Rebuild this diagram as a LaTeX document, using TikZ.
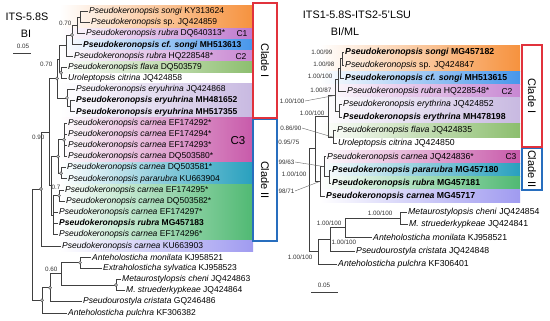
\documentclass[tikz,border=0pt]{standalone}
\usepackage{fontspec}
\setmainfont{Liberation Sans}
\definecolor{orng}{RGB}{246,146,62}
\definecolor{vio}{RGB}{190,120,205}
\definecolor{blu}{RGB}{70,150,235}
\definecolor{pnk}{RGB}{200,135,210}
\definecolor{grnA}{RGB}{140,190,110}
\definecolor{lav}{RGB}{200,185,225}
\definecolor{mag}{RGB}{200,90,170}
\definecolor{teal}{RGB}{40,160,190}
\definecolor{grnB}{RGB}{80,185,115}
\definecolor{bvio}{RGB}{160,155,240}
\definecolor{cred}{RGB}{225,50,60}
\definecolor{cblue}{RGB}{40,110,190}
\newcommand{\bandfill}[5]{\shade[left color=white,right color=#5] (#1,#2) rectangle (#3,#4);}
\tikzset{
 br/.style={draw=black!75, line width=0.7pt},
 lab/.style={anchor=west, inner sep=1pt, font=\fontsize{8.5}{9}\selectfont},
 labr/.style={anchor=west, inner sep=1pt, font=\fontsize{8.7}{9}\selectfont},
 supp/.style={inner sep=0.5pt, font=\fontsize{6.3}{7}\selectfont, text=black!80},
 ndot/.style={circle, fill=gray!55, draw=black!70, line width=0.3pt, inner sep=0pt, minimum size=3.2pt},
 lead/.style={draw=black!60, line width=0.4pt},
 cladebox/.style={line width=1.6pt, fill=white},
 cladetxt/.style={rotate=-90, font=\fontsize{11}{12}\selectfont},
 ttl/.style={font=\fontsize{10.8}{12}\selectfont},
 clab/.style={font=\fontsize{8.5}{9}\selectfont},
}
\begin{document}
\begin{tikzpicture}[x=1pt,y=-1pt]
\useasboundingbox[fill=white] (0,0) rectangle (550,321);
% ---------- left bands ----------
\bandfill{60}{5.7}{253}{28.05}{orng}
\bandfill{60}{28.05}{253}{39.2}{vio}
\bandfill{60}{39.2}{253}{50.4}{blu}
\bandfill{60}{50.4}{253}{61.55}{pnk}
\bandfill{60}{61.55}{253}{72.7}{grnA}
\bandfill{60}{83.9}{253}{117.4}{lav}
\bandfill{60}{117.4}{253}{162.1}{mag}
\bandfill{60}{162.1}{253}{184.4}{teal}
\bandfill{60}{184.4}{253}{240.3}{grnB}
\bandfill{60}{240.3}{253}{251.45}{bvio}
% ---------- right bands ----------
\bandfill{320}{45.5}{520}{71.6}{orng}
\bandfill{320}{71.6}{520}{84.7}{blu}
\bandfill{320}{84.7}{520}{97.8}{pnk}
\bandfill{320}{97.8}{520}{124}{lav}
\bandfill{320}{124}{520}{137.1}{grnA}
\bandfill{320}{150.2}{520}{163.3}{mag}
\bandfill{320}{163.3}{520}{176.4}{teal}
\bandfill{320}{176.4}{520}{189.5}{grnB}
\bandfill{320}{189.5}{520}{202.6}{bvio}
% ---------- titles ----------
\node[ttl] (t1) at (27,17) {ITS-5.8S};
\node[ttl] (t2) at (26,34) {BI};
\node[supp] (s05a) at (23,46) {0.05};
\coordinate (sbA1) at (13,53); \coordinate (sbA2) at (31,53);
\draw[br] (sbA1) -- (sbA2);
\node[ttl] (t3) at (357,15) {ITS1-5.8S-ITS2-5'LSU};
\node[ttl] (t4) at (345,32) {BI/ML};
\node[supp] (s05b) at (324,285) {0.05};
\coordinate (sbB1) at (311,292); \coordinate (sbB2) at (338,292);
\draw[br] (sbB1) -- (sbB2);
% ---------- left labels ----------
\node[lab] (L1) at (88,11.3) {\textit{Pseudokeronopsis songi} KY313624};
\node[lab] (L2) at (90,22.47) {\textit{Pseudokeronopsis} sp. JQ424859};
\node[lab] (L3) at (85,33.64) {\textit{Pseudokeronopsis rubra} DQ640313*};
\node[lab] (L4) at (82,44.81) {\textbf{\textit{Pseudokeronopsis cf. songi} MH513613}};
\node[lab] (L5) at (73,55.98) {\textit{Pseudokeronopsis rubra} HQ228548*};
\node[lab] (L6) at (67,67.15) {\textit{Pseudokeronopsis flava} DQ503579};
\node[lab] (L7) at (67,78.32) {\textit{Uroleptopsis citrina} JQ424858};
\node[lab] (L8) at (75,89.49) {\textit{Pseudokeronopsis eryuhrina} JQ424868};
\node[lab] (L9) at (75,100.66) {\textbf{\textit{Pseudokeronopsis eryuhrina} MH481652}};
\node[lab] (L10) at (75,111.83) {\textbf{\textit{Pseudokeronopsis eryuhrina} MH517355}};
\node[lab] (L11) at (67,123.0) {\textit{Pseudokeronopsis carnea} EF174292*};
\node[lab] (L12) at (67,134.17) {\textit{Pseudokeronopsis carnea} EF174294*};
\node[lab] (L13) at (67,145.34) {\textit{Pseudokeronopsis carnea} EF174293*};
\node[lab] (L14) at (67,156.51) {\textit{Pseudokeronopsis carnea} DQ503580*};
\node[lab] (L15) at (66,167.68) {\textit{Pseudokeronopsis carnea} DQ503581*};
\node[lab] (L16) at (67,178.85) {\textit{Pseudokeronopsis pararubra} KU663904};
\node[lab] (L17) at (64,190.02) {\textit{Pseudokeronopsis carnea} EF174295*};
\node[lab] (L18) at (65,201.19) {\textit{Pseudokeronopsis carnea} DQ503582*};
\node[lab] (L19) at (58,212.36) {\textit{Pseudokeronopsis carnea} EF174297*};
\node[lab] (L20) at (58,223.53) {\textbf{\textit{Pseudokeronopsis rubra} MG457183}};
\node[lab] (L21) at (58,234.7) {\textit{Pseudokeronopsis carnea} EF174296*};
\node[lab] (L22) at (61,245.87) {\textit{Pseudokeronopsis carnea} KU663903};
\node[lab] (L23) at (91,257.04) {\textit{Anteholosticha monilata} KJ958521};
\node[lab] (L24) at (102,268.21) {\textit{Extraholosticha sylvatica} KJ958523};
\node[lab] (L25) at (121,279.38) {\textit{Metaurostylopsis cheni} JQ424863};
\node[lab] (L26) at (125,290.55) {\textit{M. struederkypkeae} JQ424864};
\node[lab] (L27) at (82,301.72) {\textit{Pseudourostyla cristata} GQ246486};
\node[lab] (L28) at (67,312.89) {\textit{Anteholosticha pulchra} KF306382};
\node[clab] (C1) at (242,34) {C1};
\node[clab] (C2) at (241,57) {C2};
\node[font=\fontsize{11.5}{12}\selectfont] (C3) at (238,141) {C3};
% ---------- left internal nodes ----------
\coordinate (a12) at (80,16.89);
\coordinate (a123) at (77,25.27);
\coordinate (a1234) at (72,35.04);
\coordinate (a12345) at (66,45.51);
\coordinate (a67) at (61,72.74);
\coordinate (aF) at (59,59.13);
\coordinate (a910) at (70,106.25);
\coordinate (a8910) at (67,97.87);
\coordinate (aCI) at (57,78.5);
\coordinate (c1114) at (64,139.76);
\coordinate (c1516) at (61,173.27);
\coordinate (cP) at (58,156.5);
\coordinate (c1718) at (59,195.6);
\coordinate (cQ) at (53,215.15);
\coordinate (cII) at (51,185.8);
\coordinate (X) at (49,132.15);
\coordinate (R0) at (41,189.0);
\coordinate (o2324) at (80,262.6);
\coordinate (o2526) at (116,284.97);
\coordinate (oA) at (61,273.8);
\coordinate (oB) at (50,287.76);
\coordinate (oC) at (42,300.3);
\coordinate (rootL) at (32,244.7);
\draw[br] (a12) |- (L1.west) (a12) |- (L2.west);
\draw[br] (a123) |- (a12) (a123) |- (L3.west);
\draw[br] (a1234) |- (a123) (a1234) |- (L4.west);
\draw[br] (a12345) |- (a1234) (a12345) |- (L5.west);
\draw[br] (a67) |- (L6.west) (a67) |- (L7.west);
\draw[br] (aF) |- (a12345) (aF) |- (a67);
\draw[br] (a910) |- (L9.west) (a910) |- (L10.west);
\draw[br] (a8910) |- (L8.west) (a8910) |- (a910);
\draw[br] (aCI) |- (aF) (aCI) |- (a8910);
\draw[br] (c1114) |- (L11.west) (c1114) |- (L12.west) (c1114) |- (L13.west) (c1114) |- (L14.west);
\draw[br] (c1516) |- (L15.west) (c1516) |- (L16.west);
\draw[br] (cP) |- (c1114) (cP) |- (c1516);
\draw[br] (c1718) |- (L17.west) (c1718) |- (L18.west);
\draw[br] (cQ) |- (c1718) (cQ) |- (L19.west) (cQ) |- (L20.west) (cQ) |- (L21.west);
\draw[br] (cII) |- (cP) (cII) |- (cQ);
\draw[br] (X) |- (aCI) (X) |- (cII);
\draw[br] (R0) |- (X) (R0) |- (L22.west);
\draw[br] (o2324) |- (L23.west) (o2324) |- (L24.west);
\draw[br] (o2526) |- (L25.west) (o2526) |- (L26.west);
\draw[br] (oA) |- (o2324) (oA) |- (o2526);
\draw[br] (oB) |- (oA) (oB) |- (L27.west);
\draw[br] (oC) |- (oB) (oC) |- (L28.west);
\draw[br] (rootL) |- (R0) (rootL) |- (oC);
\foreach \n in {a1234,a67,a8910,aCI,c1114,cP,c1516,c1718,R0,o2324,o2526,oB,oC}
  \node[ndot] at (\n) {};
\node[supp, anchor=east] (p1) at (72,23) {0.70};
\node[supp, anchor=east] (p2) at (53,64) {0.70};
\node[supp, anchor=east] (p3) at (45,137) {0.90};
\node[supp, anchor=east] (p4) at (61,187) {0.7};
\node[supp, anchor=east] (p5) at (58,269) {0.60};
% ---------- right labels ----------
\node[labr] (R1) at (344,52) {\textbf{\textit{Pseudokeronopsis songi} MG457182}};
\node[labr] (R2) at (344,65.1) {\textit{Pseudokeronopsis} sp. JQ424847};
\node[labr] (R3) at (344,78.2) {\textbf{\textit{Pseudokeronopsis cf. songi} MH513615}};
\node[labr] (R4) at (346,91.3) {\textit{Pseudokeronopsis rubra} HQ228548*};
\node[labr] (R5) at (342,104.4) {\textit{Pseudokeronopsis erythrina} JQ424852};
\node[labr] (R6) at (342,117.5) {\textbf{\textit{Pseudokeronopsis erythrina} MH478198}};
\node[labr] (R7) at (336,130.6) {\textit{Pseudokeronopsis flava} JQ424835};
\node[labr] (R8) at (337,143.7) {\textit{Uroleptopsis citrina} JQ424850};
\node[labr] (R9) at (326,156.8) {\textit{Pseudokeronopsis carnea} JQ424836*};
\node[labr] (R10) at (331,169.9) {\textbf{\textit{Pseudokeronopsis pararubra} MG457180}};
\node[labr] (R11) at (331,183) {\textbf{\textit{Pseudokeronopsis rubra} MG457181}};
\node[labr] (R12) at (325,196.1) {\textbf{\textit{Pseudokeronopsis carnea} MG45717}};
\node[labr] (R13) at (407,212.5) {\textit{Metaurostylopsis cheni} JQ424854};
\node[labr] (R14) at (408,224.5) {\textit{M. struederkypkeae} JQ424841};
\node[labr] (R15) at (372,237) {\textit{Anteholosticha monilata} KJ958521};
\node[labr] (R16) at (355,251) {\textit{Pseudourostyla cristata} JQ424848};
\node[labr] (R17) at (337,264) {\textit{Anteholosticha pulchra} KF306401};
\node[clab] (C2r) at (507,91.3) {C2};
\node[clab] (C3r) at (511,156.8) {C3};
% ---------- right internal nodes ----------
\coordinate (b12) at (342,58.55);
\coordinate (b123) at (340,68.38);
\coordinate (b1234) at (338,79.84);
\coordinate (b56) at (339,110.95);
\coordinate (bA) at (335,95.4);
\coordinate (b78) at (333,137.15);
\coordinate (bB) at (328,116.3);
\coordinate (b1011) at (329,176.45);
\coordinate (b9) at (324,166.6);
\coordinate (b912) at (320,181.35);
\coordinate (bIng) at (315,148.8);
\coordinate (bM) at (400,218.5);
\coordinate (bN) at (345,227.75);
\coordinate (bO) at (330,239.4);
\coordinate (bQ) at (318,251.7);
\coordinate (rootR) at (309,200.25);
\draw[br] (b12) |- (R1.west) (b12) |- (R2.west);
\draw[br] (b123) |- (b12) (b123) |- (R3.west);
\draw[br] (b1234) |- (b123) (b1234) |- (R4.west);
\draw[br] (b56) |- (R5.west) (b56) |- (R6.west);
\draw[br] (bA) |- (b1234) (bA) |- (b56);
\draw[br] (b78) |- (R7.west) (b78) |- (R8.west);
\draw[br] (bB) |- (bA) (bB) |- (b78);
\draw[br] (b1011) |- (R10.west) (b1011) |- (R11.west);
\draw[br] (b9) |- (R9.west) (b9) |- (b1011);
\draw[br] (b912) |- (b9) (b912) |- (R12.west);
\draw[br] (bIng) |- (bB) (bIng) |- (b912);
\draw[br] (bM) |- (R13.west) (bM) |- (R14.west);
\draw[br] (bN) |- (bM) (bN) |- (R15.west);
\draw[br] (bO) |- (bN) (bO) |- (R16.west);
\draw[br] (bQ) |- (bO) (bQ) |- (R17.west);
\draw[br] (rootR) |- (bIng) (rootR) |- (bQ);
\node[supp, anchor=east] (q1) at (333,52) {1.00/99};
\node[supp, anchor=east] (q2) at (335,64) {1.00/98};
\node[supp, anchor=east] (q3) at (333,76) {1.00/100};
\node[supp, anchor=east] (q4) at (332,90) {1.00/87};
\node[supp, anchor=east] (q5) at (305,101) {1.00/100};
\node[supp, anchor=east] (q6) at (325,113) {1.00/100};
\node[supp, anchor=east] (q7) at (302,128) {0.86/90};
\node[supp, anchor=east] (q8) at (300,142) {0.95/75};
\node[supp, anchor=east] (q9) at (295,162) {0.99/63};
\node[supp, anchor=east] (q10) at (307,174) {1.00/100};
\node[supp, anchor=east] (q11) at (295,191) {0.98/71};
\node[supp, anchor=east] (q12) at (393,213) {1.00/100};
\node[supp, anchor=east] (q13) at (342,223) {1.00/100};
\node[supp, anchor=west] (q14) at (331,242) {1.00/100};
\node[supp, anchor=east] (q15) at (313,257) {1.00/100};
\draw[lead] (q5.east) -- (bA);
\draw[lead] (q7.east) -- (b78);
\draw[lead] (q9.east) -- (b9);
\draw[lead] (q11.east) -- (b912);
% ---------- clade boxes ----------
\draw[cladebox, draw=cred] (253,3) rectangle (277,118);
\node[cladetxt] (k1) at (265,60.5) {Clade I};
\draw[cladebox, draw=cblue] (253,119.5) rectangle (277,241);
\node[cladetxt] (k2) at (265,180) {Clade II};
\draw[cladebox, draw=cred, line width=1.3pt] (522,45) rectangle (542,147);
\node[cladetxt] (k3) at (532,96) {Clade I};
\draw[cladebox, draw=cblue, line width=1.3pt] (522,148.5) rectangle (542,190);
\node[cladetxt] (k4) at (532,169) {Clade II};
\end{tikzpicture}
\end{document}
